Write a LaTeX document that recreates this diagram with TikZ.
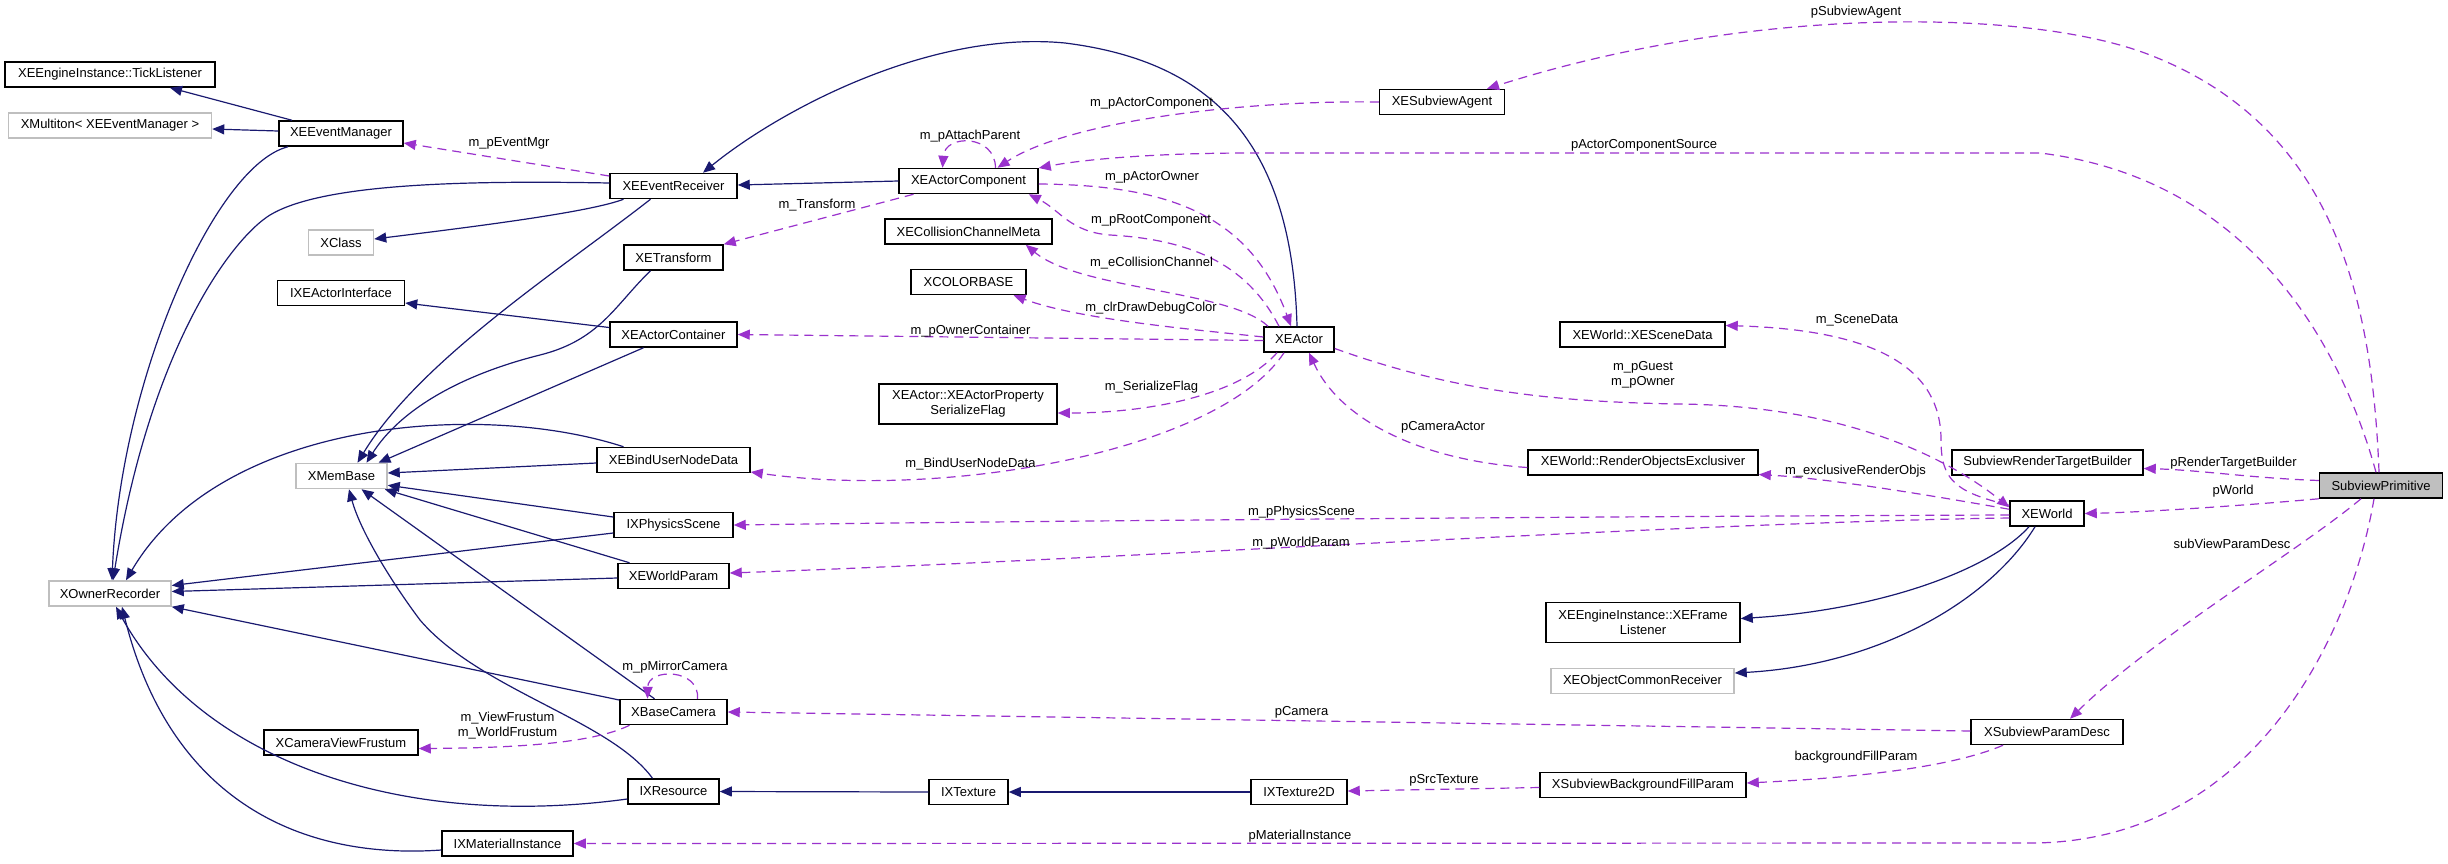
\documentclass[tikz,border=0pt]{standalone}
\usepackage{fontspec}
\setmainfont{Liberation Sans}
\usetikzlibrary{arrows.meta}
\definecolor{navyc}{HTML}{191970}
\definecolor{orchidc}{HTML}{9A32CD}
\definecolor{grayc}{HTML}{BFBFBF}
\begin{document}
\begin{tikzpicture}[x=1pt,y=-1pt,
  every node/.style={font=\fontsize{13pt}{15pt}\selectfont, inner sep=0pt},
  cls/.style={draw=black, line width=1.5pt, minimum height=25pt, fill=white},
  ext/.style={draw=grayc, line width=1.5pt, minimum height=25pt, fill=white},
  two/.style={cls, minimum height=40pt, align=center},
  inh/.style={draw=navyc, line width=1.2pt, -{Triangle[length=12pt,width=10pt]}},
  use/.style={draw=orchidc, line width=1.2pt, dash pattern=on 9pt off 6pt, -{Triangle[length=12pt,width=10pt]}},
  lbl/.style={align=center}]
\useasboundingbox[fill=white] (0,0) rectangle (2448,863);
% nodes
\node[cls, minimum width=210pt] (tick) at (110,74.5) {XEEngineInstance::TickListener};
\node[ext, minimum width=203pt] (multi) at (110,125.5) {XMultiton< XEEventManager >};
\node[cls, minimum width=124pt] (evmgr) at (341,133.5) {XEEventManager};
\node[ext, minimum width=65pt] (xclass) at (341,242.5) {XClass};
\node[cls, minimum width=127pt] (actiface) at (341,293) {IXEActorInterface};
\node[ext, minimum width=91pt] (membase) at (341.5,476) {XMemBase};
\node[ext, minimum width=122pt] (owner) at (110,593.5) {XOwnerRecorder};
\node[cls, minimum width=154pt] (frustum) at (341,742.5) {XCameraViewFrustum};
\node[cls, minimum width=131pt] (matinst) at (507.5,843.5) {IXMaterialInstance};
\node[cls, minimum width=127pt] (evrecv) at (673.5,186) {XEEventReceiver};
\node[cls, minimum width=99pt] (xetrans) at (673.5,257.5) {XETransform};
\node[cls, minimum width=127pt] (container) at (673.5,334.5) {XEActorContainer};
\node[cls, minimum width=153pt] (bindud) at (673.5,460) {XEBindUserNodeData};
\node[cls, minimum width=119pt] (physics) at (673.5,525) {IXPhysicsScene};
\node[cls, minimum width=111pt] (worldparam) at (673.5,576) {XEWorldParam};
\node[cls, minimum width=107pt] (basecam) at (673.5,712) {XBaseCamera};
\node[cls, minimum width=91pt] (ixres) at (673.5,791.5) {IXResource};
\node[cls, minimum width=139pt] (actcomp) at (968.5,181) {XEActorComponent};
\node[cls, minimum width=167pt] (collision) at (968.5,231.5) {XECollisionChannelMeta};
\node[cls, minimum width=115pt] (colorbase) at (968.5,282) {XCOLORBASE};
\node[two, minimum width=178pt] (serflag) at (968,404) {XEActor::XEActorProperty\\SerializeFlag};
\node[cls, minimum width=79pt] (ixtex) at (968.5,792) {IXTexture};
\node[cls, minimum width=96pt] (ixtex2d) at (1299,792) {IXTexture2D};
\node[cls, minimum width=70pt] (xeactor) at (1299,339.5) {XEActor};
\node[cls, minimum width=125pt] (agent) at (1442,102) {XESubviewAgent};
\node[cls, minimum width=165pt] (scenedata) at (1642.5,334.5) {XEWorld::XESceneData};
\node[cls, minimum width=230pt] (exclusiver) at (1643,462.5) {XEWorld::RenderObjectsExclusiver};
\node[two, minimum width=194pt] (frame) at (1643,622.5) {XEEngineInstance::XEFrame\\Listener};
\node[ext, minimum width=183pt] (objrecv) at (1642.5,681) {XEObjectCommonReceiver};
\node[cls, minimum width=206pt] (bgfill) at (1643,785) {XSubviewBackgroundFillParam};
\node[cls, minimum width=191pt] (rtb) at (2047.5,462.5) {SubviewRenderTargetBuilder};
\node[cls, minimum width=74pt] (xeworld) at (2047,513.5) {XEWorld};
\node[cls, minimum width=152pt] (paramdesc) at (2047,732) {XSubviewParamDesc};
\node[cls, fill=grayc, minimum width=123pt] (prim) at (2381,485.5) {SubviewPrimitive};
% inheritance edges
\draw[inh] ([xshift=-49pt]evmgr.north) -- ([xshift=60pt]tick.south);
\draw[inh] ([yshift=2.5pt]evmgr.west) -- ([yshift=-3.5pt]multi.east);
\draw[inh] ([xshift=-53pt]evmgr.south) .. controls (215,165) and (120,380) .. ([xshift=2pt]owner.north);
\draw[inh] ([yshift=3pt]evrecv.west) .. controls (450,180) and (320,185) .. (270,215) .. controls (230,240) and (150,350) .. ([xshift=3pt]owner.north);
\draw[inh] ([xshift=-50pt]evrecv.south) .. controls (590,212) and (480,226) .. ([yshift=3.5pt]xclass.east);
\draw[inh] ([xshift=-23pt]evrecv.south) .. controls (560,270) and (420,360) .. ([xshift=16pt]membase.north);
\draw[inh] ([xshift=-23pt]xetrans.south) .. controls (615,305) and (600,340) .. (540,355) .. controls (460,375) and (400,410) .. ([xshift=25pt]membase.north);
\draw[inh] ([yshift=7pt]container.west) -- ([yshift=-10pt]actiface.east);
\draw[inh] ([xshift=-30pt]container.south) -- ([xshift=37pt]membase.north);
\draw[inh] ([yshift=-3pt]bindud.west) -- ([yshift=3pt]membase.east);
\draw[inh] ([xshift=-50pt]bindud.north) .. controls (480,400) and (220,420) .. ([xshift=16pt]owner.north);
\draw[inh] ([yshift=8pt]physics.west) -- ([yshift=4pt]membase.south east);
\draw[inh] ([yshift=-8pt]physics.west) -- ([yshift=8pt]owner.east);
\draw[inh] ([xshift=-44pt]worldparam.north) -- ([xshift=-3pt]membase.south east);
\draw[inh] ([yshift=-2pt]worldparam.west) -- ([yshift=2pt]owner.east);
\draw[inh] ([xshift=-19pt]basecam.north) -- ([xshift=20pt]membase.south);
\draw[inh] ([yshift=12pt]basecam.west) -- (owner.south east);
\draw[inh] ([xshift=-21pt]ixres.north) .. controls (610,720) and (480,690) .. (420,620) .. controls (390,580) and (360,530) .. ([xshift=7.5pt]membase.south);
\draw[inh] ([yshift=-7.5pt]ixres.west) .. controls (400,830) and (200,760) .. ([xshift=6pt]owner.south);
\draw[inh] ([yshift=-6.5pt]matinst.west) .. controls (300,860) and (170,800) .. ([xshift=12pt]owner.south);
\draw[inh] (actcomp.west) -- ([yshift=1pt]evrecv.east);
\draw[inh] ([xshift=-2pt]xeactor.north) .. controls (1292,130) and (1200,60) .. (1065,43) .. controls (930,30) and (780,110) .. ([xshift=29.5pt]evrecv.north);
\draw[inh] ([xshift=-18pt]xeworld.south) .. controls (1990,570) and (1880,610) .. ([yshift=4pt]frame.east);
\draw[inh] ([xshift=-12pt]xeworld.south) .. controls (1990,600) and (1880,665) .. ([yshift=8pt]objrecv.east);
\draw[inh] (ixtex.west) -- (ixres.east);
\draw[inh] (ixtex2d.west) -- (ixtex.east);
% usage edges
\draw[use] ([yshift=10pt]evrecv.west) -- ([yshift=-9.5pt]evmgr.east);
\node[lbl] (l1) at (509,143) {m\_pEventMgr};
\draw[use] ([xshift=27pt]actcomp.north) .. controls (995,134) and (945,134) .. ([xshift=-26pt]actcomp.north);
\node[lbl] (l2) at (970,136.5) {m\_pAttachParent};
\draw[use] ([xshift=-55pt]actcomp.south) -- (xetrans.north east);
\node[lbl] (l3) at (817,205) {m\_Transform};
\draw[use] (agent.west) .. controls (1250,100) and (1070,120) .. ([xshift=29pt]actcomp.north);
\node[lbl] (l4) at (1151.5,103) {m\_pActorComponent};
\draw[use] ([xshift=-5pt]prim.north) .. controls (2345,360) and (2260,180) .. (2040,153) -- (1250,153) .. controls (1150,153) and (1080,160) .. ([yshift=13pt]actcomp.east);
\node[lbl] (l5) at (1644,145.5) {pActorComponentSource};
\draw[use] ([xshift=-2pt]prim.north) .. controls (2372,290) and (2330,125) .. (2150,55) .. controls (2030,8) and (1750,5) .. ([xshift=45pt]agent.north);
\node[lbl] (l6) at (1856,12) {pSubviewAgent};
\draw[use] ([yshift=-3pt]actcomp.east) .. controls (1170,185) and (1250,215) .. ([xshift=-8pt]xeactor.north);
\node[lbl] (l7) at (1152,177.5) {m\_pActorOwner};
\draw[use] ([xshift=-20pt]xeactor.north) .. controls (1250,270) and (1200,240) .. (1110,235) .. controls (1070,232) and (1060,210) .. ([xshift=-10pt]actcomp.south east);
\node[lbl] (l8) at (1151,220.5) {m\_pRootComponent};
\draw[use] ([xshift=-31pt]xeactor.north) .. controls (1230,290) and (1080,290) .. ([xshift=-27pt]collision.south east);
\node[lbl] (l9) at (1151.5,263) {m\_eCollisionChannel};
\draw[use] ([yshift=2.5pt]xeactor.west) .. controls (1200,330) and (1080,320) .. ([xshift=45pt]colorbase.south);
\node[lbl] (l10) at (1151,308) {m\_clrDrawDebugColor};
\draw[use] ([yshift=-1pt]xeactor.west) -- (container.east);
\node[lbl] (l11) at (970.5,331) {m\_pOwnerContainer};
\draw[use] ([xshift=-22pt]xeactor.south) .. controls (1240,395) and (1150,413) .. ([yshift=-9pt]serflag.east);
\node[lbl] (l12) at (1151.5,387.5) {m\_SerializeFlag};
\draw[use] ([xshift=-15pt]xeactor.south) .. controls (1220,450) and (950,500) .. ([yshift=-12pt]bindud.east);
\node[lbl] (l13) at (970.5,464) {m\_BindUserNodeData};
\draw[use] ([yshift=-1.5pt]xeworld.west) .. controls (1700,516) and (1100,520) .. (physics.east);
\node[lbl] (l14) at (1301.5,512) {m\_pPhysicsScene};
\draw[use] ([yshift=-4.5pt]xeworld.west) .. controls (1700,522) and (1100,560) .. ([yshift=3pt]worldparam.east);
\node[lbl] (l15) at (1301,543) {m\_pWorldParam};
\draw[use] ([yshift=-9pt]xeactor.east) .. controls (1450,390) and (1550,402) .. (1680,404) .. controls (1850,406) and (1950,460) .. ([yshift=-7pt]xeworld.north west);
\node[lbl] (l16) at (1643,374.5) {m\_pGuest\\m\_pOwner};
\draw[use] ([yshift=-5pt]exclusiver.west) .. controls (1420,460) and (1340,420) .. ([xshift=10pt]xeactor.south);
\node[lbl] (l17) at (1443,427.5) {pCameraActor};
\draw[use] ([yshift=-9pt]xeworld.north west) .. controls (1900,490) and (1820,478) .. ([yshift=-12pt]exclusiver.east);
\node[lbl] (l18) at (1855.5,471.5) {m\_exclusiveRenderObjs};
\draw[use] ([yshift=-5pt]xeworld.north west) .. controls (1955,492) and (1941,480) .. (1941,440) .. controls (1941,370) and (1880,330) .. ([yshift=9pt]scenedata.east);
\node[lbl] (l19) at (1857,320) {m\_SceneData};
\draw[use] ([yshift=5pt]prim.west) .. controls (2250,478) and (2200,470) .. ([yshift=-6pt]rtb.east);
\node[lbl] (l20) at (2233.5,463.5) {pRenderTargetBuilder};
\draw[use] (prim.south west) .. controls (2250,505) and (2150,512) .. (xeworld.east);
\node[lbl] (l21) at (2233,491.5) {pWorld};
\draw[use] ([xshift=-20pt]prim.south) .. controls (2300,550) and (2150,640) .. ([xshift=23pt]paramdesc.north);
\node[lbl] (l22) at (2232,543.5) {subViewParamDesc};
\draw[use] ([xshift=-7pt]prim.south) .. controls (2350,640) and (2250,843) .. (2030,843) -- (matinst.east);
\node[lbl] (l23) at (1300,836.5) {pMaterialInstance};
\draw[use] ([yshift=1pt]paramdesc.west) -- (basecam.east);
\node[lbl] (l24) at (1301.5,712) {pCamera};
\draw[use] ([xshift=-44pt]paramdesc.south) .. controls (1950,768) and (1850,778) .. ([yshift=2pt]bgfill.east);
\node[lbl] (l25) at (1856,757.5) {backgroundFillParam};
\draw[use] ([yshift=-2.5pt]bgfill.west) -- ([yshift=1pt]ixtex2d.east);
\node[lbl] (l26) at (1444,780.5) {pSrcTexture};
\draw[use] ([xshift=24pt]basecam.north) .. controls (700,668) and (648,668) .. ([xshift=-26pt]basecam.north);
\node[lbl] (l27) at (675,667.5) {m\_pMirrorCamera};
\draw[use] ([xshift=-44pt]basecam.south) .. controls (590,745) and (500,748) .. ([yshift=-6pt]frustum.east);
\node[lbl] (l28) at (507.5,725.5) {m\_ViewFrustum\\m\_WorldFrustum};
\end{tikzpicture}
\end{document}
